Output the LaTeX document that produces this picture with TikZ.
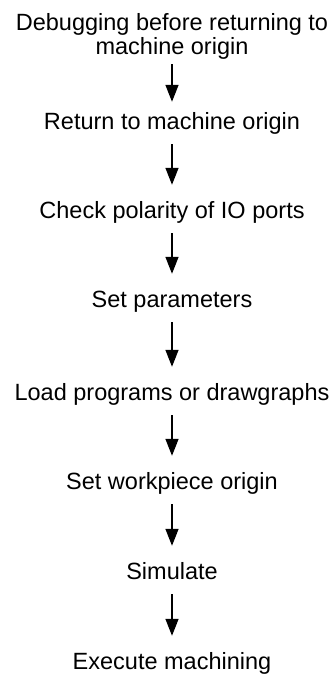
\documentclass[tikz,border=0pt]{standalone}
\usepackage{fontspec}
\setmainfont{Liberation Sans}
\usetikzlibrary{arrows.meta,positioning}
\tikzset{>={Triangle[length=17pt,width=13pt]}}
\tikzset{stage/.style={anchor=base,inner sep=0pt,font=\fontsize{23.5}{24}\selectfont,text height=17pt,text depth=5pt},
  flow/.style={->,line width=1.5pt,shorten <=10pt,shorten >=16pt}}

\begin{document}
\begin{tikzpicture}
\useasboundingbox (0pt,0pt) rectangle (336pt,-678pt);
% steps of the procedure
\node [anchor=south,inner sep=0pt,align=center,font=\fontsize{23.5}{24}\selectfont] (debug) at (172pt,-60pt) {Debugging before returning to\\machine origin};
\node [stage] (home) at (172pt,-129pt) {Return to machine origin};
\node [stage] (polar) at (172pt,-218pt) {Check polarity of IO ports};
\node [stage] (param) at (172pt,-307pt) {Set parameters};
\node [stage] (load) at (172pt,-400pt) {Load programs or drawgraphs};
\node [stage] (origin) at (172pt,-489pt) {Set workpiece origin};
\node [stage] (sim) at (172pt,-579pt) {Simulate};
\node [stage] (exec) at (172pt,-669pt) {Execute machining};
% arrows
\draw [flow,shorten <=4pt,shorten >=10pt] (debug) -- (home);
\draw [flow] (home) -- (polar);
\draw [flow] (polar) -- (param);
\draw [flow] (param) -- (load);
\draw [flow] (load) -- (origin);
\draw [flow] (origin) -- (sim);
\draw [flow] (sim) -- (exec);
\end{tikzpicture}
\end{document}
